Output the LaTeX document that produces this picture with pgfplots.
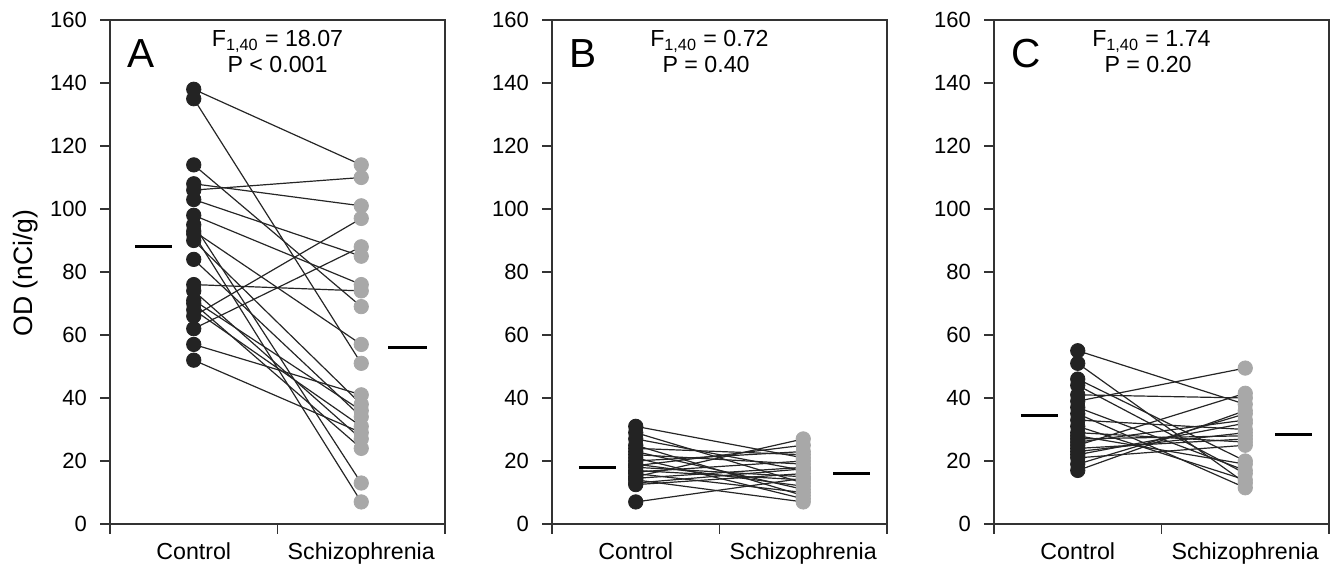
\documentclass[border=0pt]{standalone}
\usepackage{pgfplots}
\pgfplotsset{compat=1.18}
\usepackage{pgfplotstable}
\usepackage{fontspec}
\setmainfont{Liberation Sans}
\definecolor{ctrl}{HTML}{232323}
\definecolor{schz}{HTML}{A8A8A8}
\definecolor{axc}{HTML}{333333}

\pgfplotstableread{
c s
138 114
135 51
114 69
108 101
106 110
103 85
98 76
95 13
93 57
92 7
90 38
84 34
76 74
74 27
71 36
70 24
68 31
66 97
62 88
57 41
52 29
}\tabA

\pgfplotstableread{
c s
31 21
29 13
27 17
25 9
24 22
23 11
22 19
21 8
20 23
19 12
18.5 25
18 15
17 14
16.5 20
16 10
15 27
14.5 18
14 7
13 17.5
12.5 16
7 14.5
}\tabB

\pgfplotstableread{
c s
55 38
51 13
46 20
44 16
41 40
39 49.5
37 17
35 11.5
33 30
31 14
29 26
28 19
27 28
26 33
25 41.5
24 27
23 29
22 32
21 25
19 35
17 36
}\tabC

\pgfplotsset{
  myax/.style={
    scale only axis, width=167.5pt, height=252pt,
    xmin=0, xmax=2, ymin=0, ymax=160,
    ytick={0,20,...,160}, xtick={0,1,2}, xticklabels={},
    tick align=outside, tick pos=left, major tick length=5pt,
    axis line style={line width=0.75pt, draw=axc},
    every tick/.style={line width=0.6pt, draw=axc},
    extra x ticks={0.5,1.5}, extra x tick labels={Control,Schizophrenia},
    extra x tick style={major tick length=0pt, tick label style={yshift=-6pt}},
    xticklabel style={font=\fontsize{11.6}{13}\selectfont},
    yticklabel style={xshift=-3pt, font=\fontsize{11}{13}\selectfont},
    /pgf/number format/assume math mode=true,
    clip=false,
  },
  pairs/.style={quiver={u value=1, v=\thisrow{s}-\thisrow{c}}, draw=black!85, line width=0.6pt, mark=none, -},
  cmark/.style={only marks, mark=*, mark size=3.6pt, mark options={fill=ctrl, draw=ctrl}},
  smark/.style={only marks, mark=*, mark size=3.6pt, mark options={fill=schz, draw=schz}},
  meanl/.style={black, line width=1.5pt, mark=none},
}
\newcommand{\panlet}[1]{{\fontsize{20.3}{24}\selectfont #1}}
\newcommand{\stx}{\fontsize{11.6}{13}\selectfont}

\begin{document}
\begin{tikzpicture}
\useasboundingbox (0,0) rectangle (670pt,286pt);
\node[rotate=90, font=\fontsize{13.3}{15}\selectfont] at (13pt,149.5pt) {OD (nCi/g)};

% Panel A
\begin{axis}[myax, at={(55pt,24pt)}, anchor=south west]
\addplot[pairs] table[x expr=0.5, y=c] {\tabA};
\addplot[cmark] table[x expr=0.5, y=c] {\tabA};
\addplot[smark] table[x expr=1.5, y=s] {\tabA};
\addplot[meanl] coordinates {(0.15,88) (0.37,88)};
\addplot[meanl] coordinates {(1.66,56) (1.89,56)};
\node[anchor=base west, inner sep=0pt] at (axis cs:0.1,145) {\panlet{A}};
\node[anchor=base, inner sep=0pt, font=\stx] at (axis cs:1.0,151.5) {F\textsubscript{1,40} = 18.07};
\node[anchor=base, inner sep=0pt, font=\stx] at (axis cs:1.0,143.2) {P < 0.001};
\end{axis}

% Panel B
\begin{axis}[myax, at={(276pt,24pt)}, anchor=south west]
\addplot[pairs] table[x expr=0.5, y=c] {\tabB};
\addplot[cmark] table[x expr=0.5, y=c] {\tabB};
\addplot[smark] table[x expr=1.5, y=s] {\tabB};
\addplot[meanl] coordinates {(0.16,18) (0.38,18)};
\addplot[meanl] coordinates {(1.68,16) (1.90,16)};
\node[anchor=base west, inner sep=0pt] at (axis cs:0.1,145) {\panlet{B}};
\node[anchor=base, inner sep=0pt, font=\stx] at (axis cs:0.94,151.5) {F\textsubscript{1,40} = 0.72};
\node[anchor=base, inner sep=0pt, font=\stx] at (axis cs:0.92,143.2) {P = 0.40};
\end{axis}

% Panel C
\begin{axis}[myax, at={(497pt,24pt)}, anchor=south west]
\addplot[pairs] table[x expr=0.5, y=c] {\tabC};
\addplot[cmark] table[x expr=0.5, y=c] {\tabC};
\addplot[smark] table[x expr=1.5, y=s] {\tabC};
\addplot[meanl] coordinates {(0.16,34.3) (0.38,34.3)};
\addplot[meanl] coordinates {(1.68,28.4) (1.90,28.4)};
\node[anchor=base west, inner sep=0pt] at (axis cs:0.1,145) {\panlet{C}};
\node[anchor=base, inner sep=0pt, font=\stx] at (axis cs:0.94,151.5) {F\textsubscript{1,40} = 1.74};
\node[anchor=base, inner sep=0pt, font=\stx] at (axis cs:0.92,143.2) {P = 0.20};
\end{axis}
\end{tikzpicture}
\end{document}
